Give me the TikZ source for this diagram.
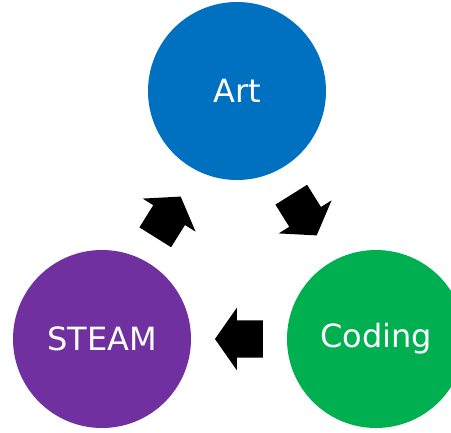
\documentclass[tikz,border=0pt]{standalone}
\usepackage{fontspec}
\setmainfont{DejaVu Sans}
\usepackage{tikz}
\usetikzlibrary{shapes.arrows}
\usetikzlibrary{math}
\definecolor{artblue}{RGB}{0,112,192}
\definecolor{steampurple}{RGB}{112,48,160}
\definecolor{codegreen}{RGB}{0,176,80}
\tikzstyle{topic} = [circle, minimum size=178pt, inner sep=0pt, text=white, font=\fontsize{32}{38}\selectfont]
\tikzstyle{flow} = [single arrow, fill=black, inner xsep=0pt, inner ysep=18.5pt, minimum height=48pt, single arrow head extend=12.5pt, single arrow tip angle=110, single arrow head indent=0pt]

\begin{document}
\begin{tikzpicture}[x=1pt, y=-1pt]

  \tikzmath{\w = 451; \h = 433;}

  % % page frame
  \useasboundingbox (0,0) rectangle (\w,\h);
  \fill[white] (0,0) rectangle (\w,\h);

  % Three topics
  \node[topic, fill=artblue] (art) at (237,91) {Art};
  \node[topic, fill=steampurple] (steam) at (102,339) {STEAM};
  \node[topic, fill=codegreen] (coding) at (376,339) {Coding};

  % Block arrows round the cycle
  \node[flow, rotate=-58] (artcoding) at (300.5,209.5) {};
  \node[flow, rotate=180] (codingsteam) at (245.5,339) {};
  \node[flow, rotate=58] (steamart) at (164.5,222.5) {};

\end{tikzpicture}
\end{document}
